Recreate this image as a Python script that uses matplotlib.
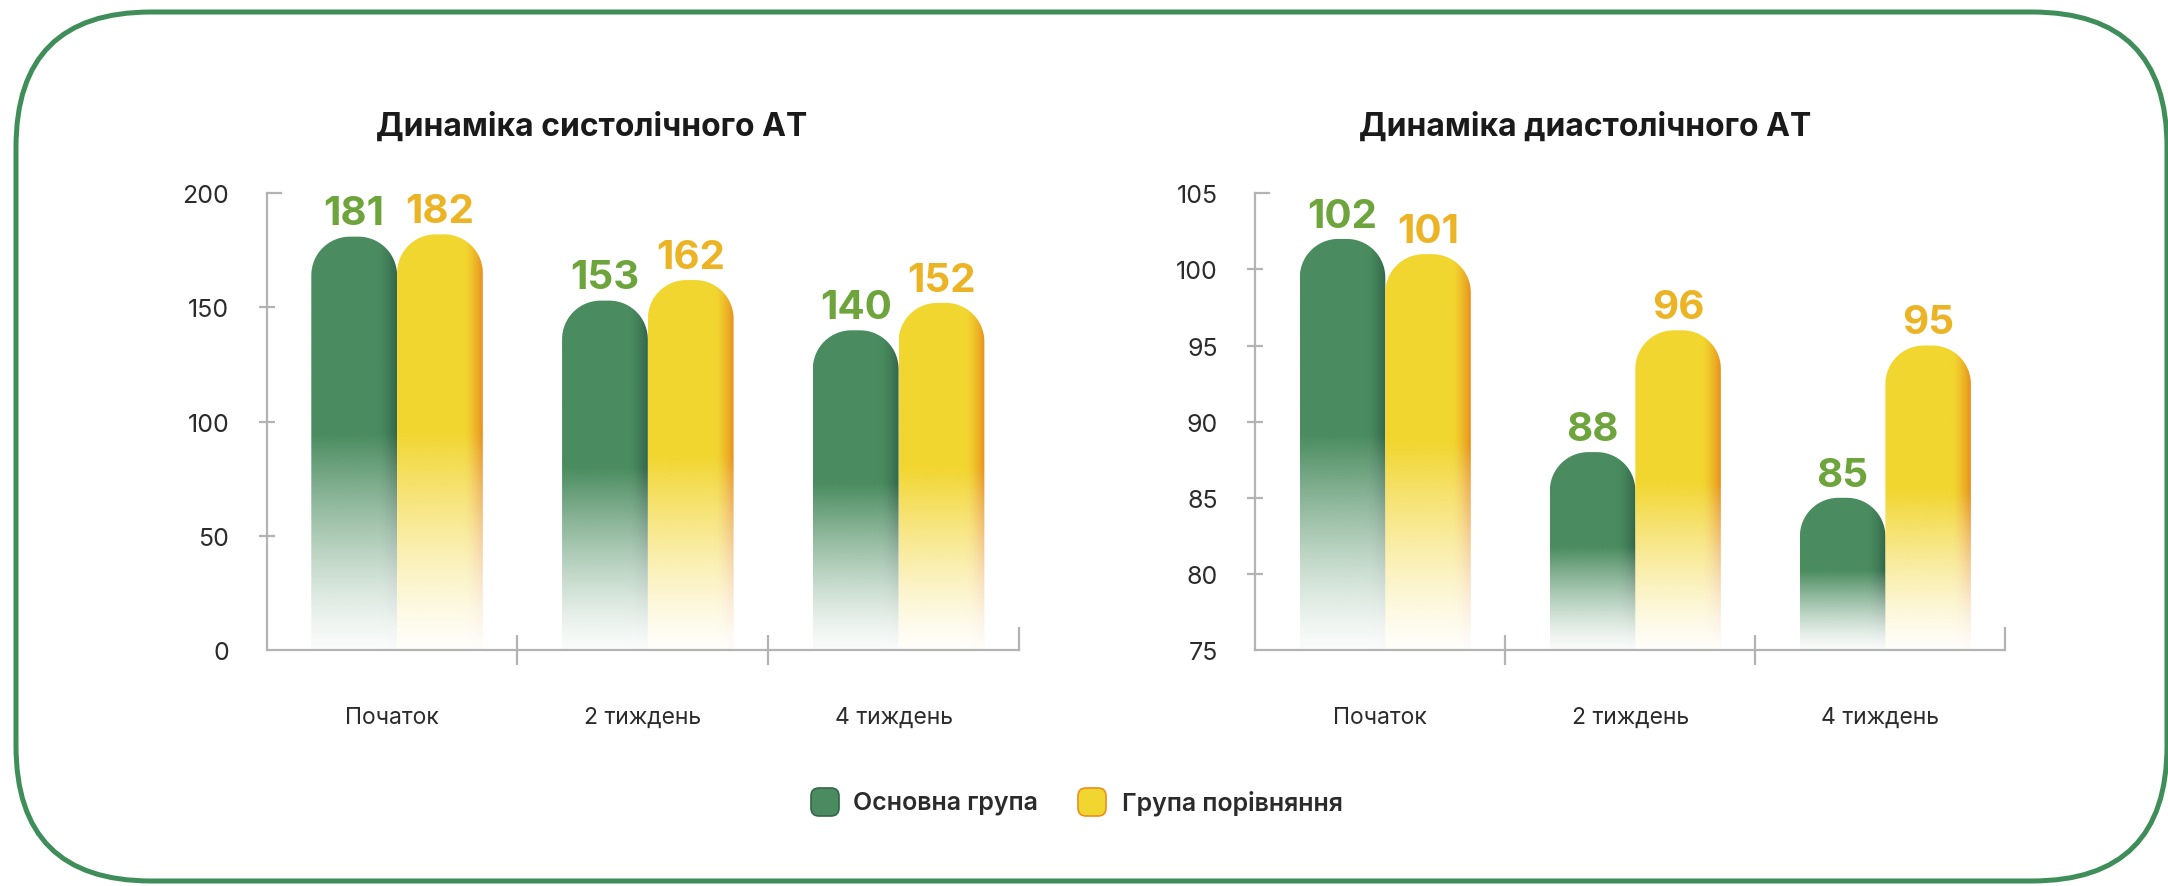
import numpy as np
import matplotlib.pyplot as plt
from matplotlib.patches import FancyBboxPatch, PathPatch
from matplotlib.path import Path
from matplotlib.colors import to_rgb

plt.rcParams['font.family'] = ['Inter', 'DejaVu Sans']

# data
categories = ['Початок', '2 тиждень', '4 тиждень']
series_names = ['Основна група', 'Група порівняння']
systolic_main = [181, 153, 140]
systolic_comp = [182, 162, 152]
diastolic_main = [102, 88, 85]
diastolic_comp = [101, 96, 95]
systolic_ticks = [0, 50, 100, 150, 200]
diastolic_ticks = [75, 80, 85, 90, 95, 100, 105]
titles = ['Динаміка систолічного АТ', 'Динаміка диастолічного АТ']

GREEN = '#4a8c5f'
GREEN_EDGE = '#33664a'
YELLOW = '#f2d630'
YELLOW_EDGE = '#e8901e'
GREEN_TXT = '#6ea43c'
YELLOW_TXT = '#ecb424'
AXIS = '#b3b3b3'
TXT = '#2b2b2b'

W, H = 2168, 887
fig = plt.figure(figsize=(W / 100, H / 100), dpi=100)

# background: rounded frame + legend, in pixel coordinates
bg = fig.add_axes([0, 0, 1, 1], zorder=0)
bg.set_xlim(0, W)
bg.set_ylim(H, 0)
bg.axis('off')
bg.add_patch(FancyBboxPatch((16, 13), 2151, 869, boxstyle='round,pad=0,rounding_size=135',
                            fill=False, ec='#3f8d59', lw=3.6))


def bar_image(base, edge, n=200):
    xs = np.linspace(0, 1, n)
    ys = np.linspace(0, 1, n)
    b = np.array(to_rgb(base))
    e = np.array(to_rgb(edge))
    t = np.clip((xs - 0.78) / 0.22, 0, 1) ** 1.5
    row = b[None, :] * (1 - t[:, None]) + e[None, :] * t[:, None]
    alpha = np.clip(ys / 0.52, 0, 1) ** 1.3 * 0.97 + 0.03
    img = np.zeros((n, n, 4))
    img[..., :3] = row[None, :, :]
    img[..., 3] = alpha[:, None]
    return img


def top_rounded(x0, x1, y0, y1, rx, ry):
    th = np.linspace(np.pi, np.pi / 2, 20)
    left = np.c_[x0 + rx + rx * np.cos(th), y1 - ry + ry * np.sin(th)]
    th2 = np.linspace(np.pi / 2, 0, 20)
    right = np.c_[x1 - rx + rx * np.cos(th2), y1 - ry + ry * np.sin(th2)]
    verts = np.vstack([[x0, y0], left, right, [x1, y0], [x0, y0]])
    return Path(verts, closed=True)


def draw_chart(ax, main, comp, ticks, title, title_x):
    x = np.arange(len(categories))
    w = 0.342
    ymin, ymax = ticks[0], ticks[-1]
    bbox = ax.get_position()
    pxx = bbox.width * W / 3
    pxy = bbox.height * H / (ymax - ymin)

    bars_main = ax.bar(x - w / 2 + 0.02, main, w, color='none')
    bars_comp = ax.bar(x + w / 2 + 0.02, comp, w, color='none')

    for bars, base, edge, tc in [(bars_main, GREEN, GREEN_EDGE, GREEN_TXT),
                                 (bars_comp, YELLOW, YELLOW_EDGE, YELLOW_TXT)]:
        img = bar_image(base, edge)
        for r in bars:
            x0 = r.get_x()
            x1 = x0 + r.get_width()
            top = r.get_height()
            rpx = 0.45 * r.get_width() * pxx
            path = top_rounded(x0, x1, ymin, top, rpx / pxx, rpx / pxy)
            patch = PathPatch(path, transform=ax.transData, fc='none', ec='none')
            im = ax.imshow(img, extent=[x0, x1, ymin, top], origin='lower',
                           aspect='auto', zorder=2, interpolation='bilinear')
            im.set_clip_path(patch)
            ax.annotate(f'{top:g}', (x0 + r.get_width() / 2, top), xytext=(0, 3),
                        textcoords='offset points', ha='center', va='bottom',
                        fontsize=29, fontweight='bold', color=tc)

    ax.set_xlim(-0.5, 2.5)
    ax.set_ylim(ymin, ymax)
    for s in ['top', 'right']:
        ax.spines[s].set_visible(False)
    for s in ['left', 'bottom']:
        ax.spines[s].set_color(AXIS)
        ax.spines[s].set_linewidth(1.6)
    ax.set_yticks(ticks)
    ax.tick_params(axis='y', direction='inout', length=12, width=1.6, color=AXIS,
                   labelsize=18, labelcolor=TXT, pad=21)
    yt = ax.yaxis.get_major_ticks()
    yt[0].tick1line.set_visible(False)
    yt[-1].tick1line.set_visible(False)
    ax.plot([-0.5, -0.5 + 14 / pxx], [ymax, ymax], color=AXIS, lw=1.6, clip_on=False)
    ax.set_xticks(x)
    ax.set_xticklabels(categories)
    ax.tick_params(axis='x', length=0, labelsize=16.5, labelcolor=TXT, pad=40)
    ax.set_xticks([0.5, 1.5], minor=True)
    ax.tick_params(axis='x', which='minor', direction='inout', length=22, width=1.6, color=AXIS)
    ax.plot([2.5, 2.5], [ymin, ymin + 22 / pxy], color=AXIS, lw=1.6, clip_on=False)
    ax.set_title(title, fontsize=23, fontweight='bold', color='#1a1a1a', pad=42, x=title_x)
    ax.patch.set_alpha(0)


ax1 = fig.add_axes([0.123, 0.266, 0.347, 0.515], zorder=1)
ax2 = fig.add_axes([0.579, 0.266, 0.346, 0.515], zorder=1)
draw_chart(ax1, systolic_main, systolic_comp, systolic_ticks, titles[0], 0.432)
draw_chart(ax2, diastolic_main, diastolic_comp, diastolic_ticks, titles[1], 0.44)

# legend
for (sx, tx), name, fc, ec in [((811, 853), series_names[0], GREEN, GREEN_EDGE),
                               ((1078, 1122), series_names[1], YELLOW, YELLOW_EDGE)]:
    bg.add_patch(FancyBboxPatch((sx, 789), 28, 28, boxstyle='round,pad=0,rounding_size=8',
                                fc=fc, ec=ec, lw=1.2))
    bg.text(tx, 803, name, fontsize=18, fontweight='semibold', color=TXT, va='center', ha='left')

fig.savefig('out.png', dpi=100)
